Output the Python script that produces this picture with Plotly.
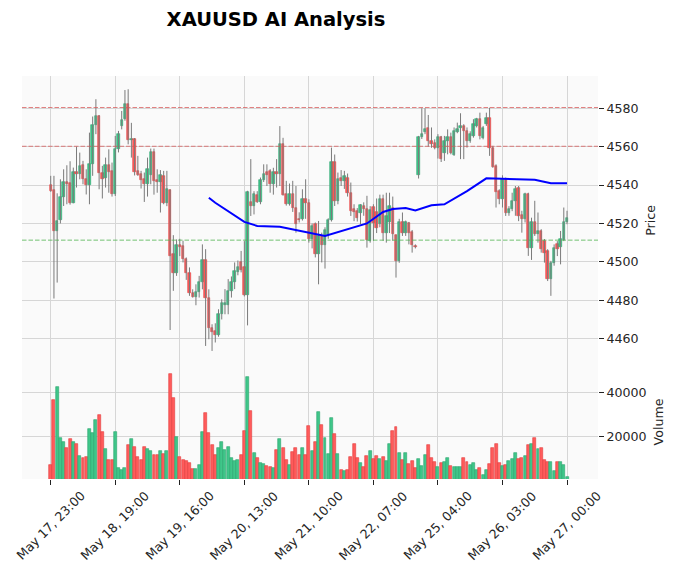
import plotly.graph_objects as go
from plotly.subplots import make_subplots

# ---------------- data (hourly bars, integer index 0..160) ----------------
opens = [4540.1,4537.6,4515.9,4522.0,4533.6,4541.6,4540.9,4530.9,4546.8,4546.0,
         4550.3,4543.0,4540.2,4550.8,4571.3,4576.0,4546.5,4543.8,4550.3,4547.4,
         4535.6,4558.6,4570.5,4574.3,4582.1,4563.3,4564.2,4547.4,4545.6,4543.0,
         4540.8,4545.0,4557.0,4542.5,4541.6,4544.8,4530.9,4537.5,4504.0,4494.1,
         4508.6,4508.3,4501.4,4494.4,4484.0,4481.9,4484.3,4489.5,4501.0,4481.4,
         4465.8,4463.8,4461.8,4472.7,4477.5,4477.6,4484.9,4489.5,4494.5,4499.7,
         4497.1,4482.6,4531.2,4529.1,4534.7,4531.2,4542.7,4546.6,4547.4,4540.4,
         4546.8,4545.6,4561.2,4535.4,4530.2,4535.4,4528.3,4522.5,4522.4,4532.6,
         4530.9,4511.7,4519.6,4504.0,4513.5,4508.6,4514.0,4521.7,4552.0,4531.8,
         4543.6,4542.2,4543.9,4536.0,4527.4,4526.6,4525.5,4529.1,4527.4,4510.9,
         4528.5,4526.0,4519.6,4532.6,4515.0,4520.5,4528.3,4514.0,4500.5,4521.0,
         4514.9,4520.1,4515.6,4508.4,4545.1,4565.0,4567.5,4569.9,4563.0,4562.0,
         4559.4,4565.1,4556.6,4563.0,4565.1,4555.7,4567.6,4569.7,4570.5,4568.2,
         4563.0,4565.6,4571.0,4574.3,4564.7,4571.7,4575.1,4559.5,4550.0,4536.9,
         4532.6,4543.0,4525.7,4527.3,4531.8,4538.7,4524.2,4522.2,4535.1,4507.4,
         4520.6,4514.3,4516.1,4511.0,4505.7,4491.3,4499.3,4509.1,4507.8,4511.4,
         4520.6]
highs = [4544.8,4544.8,4535.7,4543.0,4548.2,4550.3,4552.4,4549.1,4560.0,4556.9,
         4552.6,4548.2,4567.3,4575.7,4584.7,4576.5,4550.0,4554.3,4558.6,4551.7,
         4565.6,4568.2,4578.6,4589.5,4589.9,4572.4,4564.5,4555.2,4547.4,4546.5,
         4554.3,4559.0,4559.0,4548.2,4547.8,4547.4,4547.4,4537.8,4513.9,4511.7,
         4512.0,4511.0,4502.3,4497.1,4485.7,4488.3,4492.7,4509.1,4506.6,4485.7,
         4467.5,4468.0,4475.3,4480.5,4485.8,4491.0,4492.4,4499.7,4500.7,4505.7,
         4510.8,4537.0,4553.5,4536.8,4536.8,4543.9,4550.8,4550.8,4548.3,4549.0,
         4553.5,4570.7,4564.6,4542.2,4540.8,4542.2,4539.5,4525.8,4537.8,4543.0,
         4532.6,4520.0,4520.5,4521.3,4515.2,4518.0,4522.7,4559.5,4555.9,4546.5,
         4547.8,4547.4,4546.0,4541.3,4530.0,4528.0,4530.0,4531.0,4534.4,4529.0,
         4530.0,4533.0,4535.0,4535.0,4536.0,4536.0,4534.0,4514.2,4522.4,4525.7,
         4521.5,4520.8,4516.6,4509.1,4565.6,4580.0,4580.0,4576.5,4570.0,4563.8,
         4566.5,4565.6,4565.6,4569.0,4567.3,4570.0,4572.5,4577.4,4571.7,4570.0,
         4568.0,4574.3,4575.0,4577.7,4570.8,4577.7,4580.3,4560.4,4550.8,4537.8,
         4545.1,4543.9,4529.0,4536.0,4539.5,4539.5,4526.6,4536.0,4536.0,4523.0,
         4531.8,4525.7,4517.0,4511.9,4506.6,4500.5,4509.1,4510.8,4516.1,4528.3,
         4526.6]
lows = [4536.5,4480.9,4489.2,4520.0,4529.1,4530.0,4529.8,4530.5,4538.7,4543.0,
        4540.4,4535.1,4530.0,4544.8,4566.5,4537.8,4533.0,4538.7,4536.0,4534.0,
        4534.3,4557.0,4569.0,4573.5,4561.2,4554.3,4545.0,4544.8,4538.2,4531.2,
        4534.0,4540.4,4535.0,4536.0,4525.7,4530.0,4529.0,4464.5,4484.9,4492.7,
        4503.0,4499.7,4490.6,4482.3,4481.4,4477.4,4481.4,4485.7,4456.2,4459.7,
        4453.6,4458.0,4461.0,4470.0,4472.7,4472.7,4481.4,4485.8,4493.0,4494.5,
        4482.0,4466.9,4523.9,4524.7,4530.7,4530.0,4541.6,4539.5,4536.0,4535.0,
        4538.7,4539.5,4534.5,4529.3,4529.3,4526.0,4515.2,4520.5,4521.5,4522.4,
        4510.0,4507.0,4502.3,4488.3,4499.7,4496.5,4512.0,4521.0,4529.1,4530.0,
        4539.5,4538.0,4534.0,4523.9,4521.2,4521.0,4519.6,4524.0,4507.4,4510.0,
        4511.0,4515.0,4518.0,4511.0,4510.0,4515.0,4511.0,4491.8,4499.5,4513.5,
        4513.5,4509.1,4504.8,4507.0,4543.4,4564.0,4566.5,4560.0,4559.4,4558.6,
        4553.8,4552.0,4552.6,4556.0,4556.0,4555.2,4567.0,4553.5,4553.5,4559.5,
        4562.0,4564.7,4570.0,4563.8,4563.8,4570.8,4555.2,4549.0,4528.3,4530.0,
        4528.3,4523.9,4524.0,4526.4,4524.0,4521.2,4515.2,4520.5,4503.1,4501.0,
        4513.5,4510.0,4504.8,4499.6,4490.0,4482.3,4498.0,4503.0,4498.7,4510.8,
        4519.6]
closes = [4537.1,4515.9,4521.1,4533.6,4541.6,4540.4,4530.5,4546.8,4546.0,4550.0,
          4543.4,4540.2,4550.8,4571.1,4576.0,4546.5,4543.4,4550.3,4546.8,4535.6,
          4558.6,4566.5,4573.9,4582.1,4563.5,4564.2,4546.8,4545.1,4542.5,4540.8,
          4548.2,4557.0,4542.0,4541.6,4545.3,4530.9,4537.8,4503.1,4494.1,4508.6,
          4507.5,4501.4,4494.1,4483.6,4481.9,4484.3,4489.5,4501.0,4481.4,4465.8,
          4463.5,4462.0,4472.7,4478.8,4478.8,4484.9,4489.5,4495.3,4497.1,4495.7,
          4482.6,4536.4,4529.1,4535.1,4531.2,4542.7,4546.0,4545.1,4540.4,4546.8,
          4545.6,4561.2,4534.9,4530.2,4535.4,4528.3,4519.6,4521.8,4532.6,4530.9,
          4511.7,4518.5,4504.0,4513.5,4508.6,4516.6,4522.0,4552.0,4531.8,4543.4,
          4542.2,4544.5,4536.0,4526.6,4526.0,4523.1,4529.4,4527.4,4511.4,4527.0,
          4520.0,4517.4,4532.6,4515.2,4524.0,4529.1,4514.3,4500.5,4521.0,4514.9,
          4520.7,4515.2,4508.6,4507.8,4565.2,4566.8,4569.4,4563.0,4561.2,4559.4,
          4565.1,4553.8,4563.0,4565.1,4556.6,4568.2,4569.4,4570.5,4568.2,4563.0,
          4566.5,4571.7,4574.3,4565.6,4569.9,4575.1,4559.5,4549.6,4536.4,4532.9,
          4543.0,4525.7,4527.7,4531.7,4538.2,4523.9,4522.4,4535.1,4507.4,4520.6,
          4514.3,4516.0,4506.6,4504.8,4491.3,4499.3,4507.4,4506.9,4511.7,4520.6,
          4523.1]
volumes = [6973,36515,42424,19245,17427,14700,18790,17427,16518,11064,
           10154,10609,23335,21517,27425,29698,21971,14245,9245,9245,
           21971,5610,4701,5610,16063,18790,15154,10609,9245,15154,
           14245,13336,11518,11518,13336,11973,13336,48333,37425,19699,
           10609,9245,8791,8185,5155,5155,6973,21971,30607,21517,
           16063,11518,14700,17427,13790,15154,10154,8791,9245,11518,
           22426,46969,31516,12427,10154,7882,7427,6518,6064,5610,
           13790,18790,14700,9245,6973,12882,14700,11518,14700,11518,
           24699,13336,17427,31062,25153,19245,11973,28334,21062,11973,
           4701,4246,4701,10609,16518,10154,7882,6064,11064,13336,
           9700,11064,9700,10609,8791,16518,22426,24244,12427,9245,
           12427,7427,8791,5610,9700,6518,11518,16063,10154,8336,
           6064,7882,8336,10154,6518,6064,6064,6064,10154,8336,
           6973,7882,4701,5610,2428,4701,7427,14700,16518,7882,
           6518,6973,8791,9700,12427,9700,10154,11064,16063,16518,
           19245,14245,14700,9245,8336,8336,4246,8336,8336,6973,
           1519]

# blue analysis line (vertices at bar index)
line_idx = [49, 51, 60, 64, 71, 85, 98, 103, 106, 110, 113, 118, 122, 129, 135, 150, 155, 160]
line_val = [4533.4, 4530.8, 4520.8, 4518.7, 4518.3, 4513.5, 4520.0, 4526.0, 4527.5, 4528.0,
            4526.8, 4529.5, 4530.0, 4536.8, 4543.5, 4542.8, 4540.9, 4540.9]

resistance_levels = [4580.4, 4560.2]
support_levels = [4511.3]

tick_idx = [0, 20, 40, 60, 80, 100, 120, 140, 160]
tick_text = ["May 17, 23:00", "May 18, 19:00", "May 19, 16:00", "May 20, 13:00",
             "May 21, 10:00", "May 22, 07:00", "May 25, 04:00", "May 26, 03:00",
             "May 27, 00:00"]
price_ticks = [4460, 4480, 4500, 4520, 4540, 4560, 4580]
vol_ticks = [20000, 40000]

# ---------------- styling ----------------
UP = "#3fc689"
DOWN = "#ff5b5b"
UP_EDGE = "#2aa56f"
DOWN_EDGE = "#e23c3c"
WICK = "#7a7a7a"
FACE = "#fafafa"
GRID = "#d6d6d6"
FONT = "DejaVu Sans"
TXT = "#262626"
FS = 12.6

# page body has an 8px default margin: figure is 671x571 placed at (8, 8)
W, H = 671, 571
OFF = 8

n = len(closes)
idx = list(range(n))
up = [closes[i] >= opens[i] for i in idx]

fig = make_subplots(rows=2, cols=1, shared_xaxes=True, vertical_spacing=0,
                    row_heights=[0.717, 0.283])

# wicks
wx, wy = [], []
for i in idx:
    wx += [i, i, None]
    wy += [lows[i], highs[i], None]
fig.add_trace(go.Scatter(x=wx, y=wy, mode="lines", line=dict(color=WICK, width=1),
                         hoverinfo="skip", showlegend=False), row=1, col=1)

# bodies
base = [min(opens[i], closes[i]) for i in idx]
height = [max(abs(closes[i] - opens[i]), 0.35) for i in idx]
fig.add_trace(go.Bar(x=idx, y=height, base=base, width=0.74,
                     marker=dict(color=[UP if u else DOWN for u in up],
                                 line=dict(color=[UP_EDGE if u else DOWN_EDGE for u in up], width=0.6)),
                     showlegend=False), row=1, col=1)

# analysis line
fig.add_trace(go.Scatter(x=line_idx, y=line_val, mode="lines",
                         line=dict(color="#0000ff", width=2), showlegend=False), row=1, col=1)

for lv in resistance_levels:
    fig.add_hline(y=lv, line=dict(color="rgba(215,85,85,0.75)", width=1.0, dash="4.5px,2px"),
                  row=1, col=1)
for lv in support_levels:
    fig.add_hline(y=lv, line=dict(color="rgba(80,180,80,0.8)", width=1.0, dash="4.5px,2px"),
                  row=1, col=1)

# volume
fig.add_trace(go.Bar(x=idx, y=volumes, width=0.92,
                     marker=dict(color=[UP if u else DOWN for u in up],
                                 line=dict(color=[UP_EDGE if u else DOWN_EDGE for u in up], width=0.6)),
                     showlegend=False), row=2, col=1)

# rotated date labels centred on their ticks (matplotlib style)
for t, s in zip(tick_idx, tick_text):
    fig.add_annotation(x=t, y=0, xref="x2", yref="paper", text=s, showarrow=False,
                       textangle=-45, xanchor="center", yanchor="top", yshift=-7,
                       font=dict(family=FONT, size=FS, color=TXT))

xr = [-8.9, 169.6]
fig.update_xaxes(range=xr, showgrid=True, gridcolor=GRID, gridwidth=1.2, zeroline=False,
                 tickvals=tick_idx, showticklabels=False, showline=False, automargin=False)
fig.update_xaxes(ticks="", row=1, col=1)
fig.update_xaxes(ticks="outside", ticklen=5, tickcolor="#222", row=2, col=1)

fig.update_yaxes(side="right", showgrid=True, gridcolor=GRID, gridwidth=1.2, zeroline=False,
                 ticks="outside", ticklen=5, tickcolor="#222", showline=False, automargin=False,
                 tickfont=dict(family=FONT, size=FS, color=TXT))
fig.update_yaxes(range=[4446.3, 4596.8], tickvals=price_ticks,
                 ticktext=[str(v) for v in price_ticks],
                 title=dict(text="Price", font=dict(family=FONT, size=FS, color=TXT), standoff=8),
                 row=1, col=1)
fig.update_yaxes(range=[760, 52400], tickvals=vol_ticks,
                 ticktext=[str(v) for v in vol_ticks],
                 title=dict(text="Volume", font=dict(family=FONT, size=FS, color=TXT), standoff=8),
                 row=2, col=1)

left, right, top, bottom = 22 - OFF, 598 - OFF, 76 - OFF, 479 - OFF
fig.update_layout(
    width=W, height=H,
    margin=dict(l=left, r=W - right, t=top, b=H - bottom, autoexpand=False),
    paper_bgcolor="white", plot_bgcolor=FACE,
    bargap=0, barmode="overlay",
    title=dict(text="<b>XAUUSD AI Analysis</b>", x=(276 - 22) / 576, xref="paper", xanchor="center",
               y=1 - (19 - OFF) / H, yanchor="middle",
               font=dict(family=FONT, size=19.5, color="black")),
    showlegend=False,
)

fig.write_html("out.html")
